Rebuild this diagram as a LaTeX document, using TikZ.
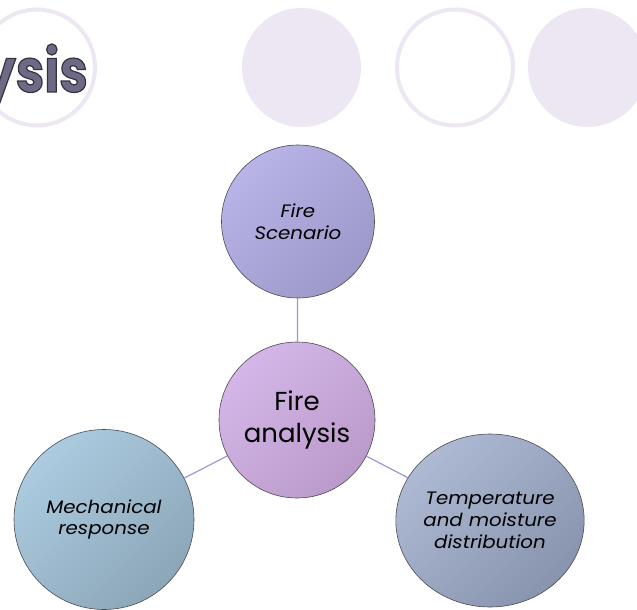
\documentclass[tikz,border=0pt]{standalone}
\usepackage{fontspec}
\setmainfont{Poppins}[ItalicFeatures={FakeStretch=1.1}]
\newfontfamily\titlefont{Poppins}[FakeStretch=0.85]
\usetikzlibrary{shapes.geometric}

\definecolor{deco}{HTML}{EDE6F3}
\definecolor{rim}{HTML}{4A4A52}
\definecolor{link}{HTML}{9B97D6}
\definecolor{titlefill}{HTML}{6F6986}
\definecolor{firetop}{RGB}{212,182,232}
\definecolor{firebot}{RGB}{186,154,202}
\definecolor{scentop}{RGB}{184,180,232}
\definecolor{scenbot}{RGB}{156,152,200}
\definecolor{mechtop}{RGB}{172,203,224}
\definecolor{mechbot}{RGB}{140,166,184}
\definecolor{temptop}{RGB}{174,185,211}
\definecolor{tempbot}{RGB}{136,148,174}

\begin{document}
\begin{tikzpicture}[
    x=1pt,
    y=-1pt,
    every node/.style={align=center},
    bubble/.style={
        draw=rim,line width=0.6pt,inner sep=0pt
    },
    tint/.style={
        top color=#1top,bottom color=#1bot,shading angle=45
    },
    topic/.style={
        font=\fontsize{18}{21.7}\selectfont\itshape
    },
    every edge/.append style={
        draw=link,line width=1.2pt
    },
    decoring/.style={
        draw=deco,line width=4pt,fill=white
    }
]
    \clip (0,0) rectangle (637,610);

    % header circles
    \fill [deco] (301.5,67.5) circle [radius=59.5];
    \fill [deco] (587.5,67.5) circle [radius=59.5];
    \draw [decoring] (455,67.5) circle [radius=58];
    \draw [decoring] (37,67.5) circle [radius=58];
    \node (title) [anchor=base east,inner sep=0pt,text=titlefill,
        font=\titlefont\fontsize{60}{60}\selectfont\bfseries]
        at (88,92) {\special{pdf:literal direct 0.2 0.2 0.25 RG 2 Tr 1.2 w}ysis\special{pdf:literal direct 0 Tr}};

    \node (fire) [bubble,circle,minimum size=156pt,tint=fire,
        font=\fontsize{26}{31.7}\selectfont]
        at (297,420) {Fire\\analysis};

    \node (scenario) [bubble,circle,minimum size=153pt,topic,tint=scen]
        at (298,221.5) {Fire\\Scenario};

    \node (mechanical) [bubble,circle,minimum size=180pt,topic,tint=mech]
        at (104,519.5) {Mechanical\\response};

    \node (temperature) [bubble,ellipse,minimum width=186pt,minimum height=173pt,
        topic,tint=temp]
        at (490,520.5) {Temperature\\and moisture\\distribution};

    \draw (fire) edge (scenario);
    \draw (fire) edge (mechanical);
    \draw (fire) edge (temperature);

\end{tikzpicture}
\end{document}
